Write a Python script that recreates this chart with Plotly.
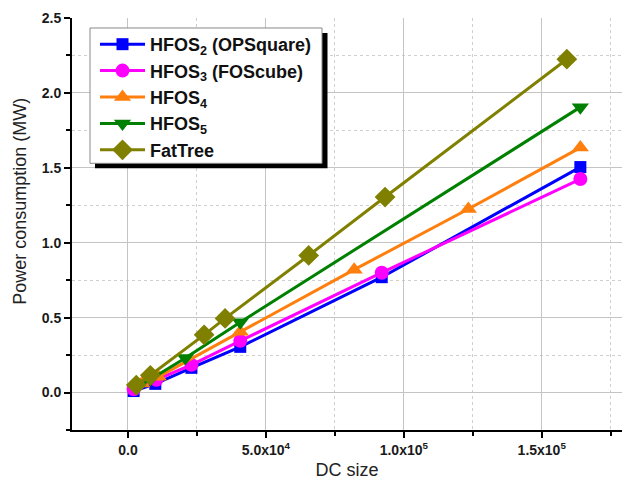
import plotly.graph_objects as go

# ---- data ----
hfos2_x = [2048, 9900, 23000, 40700, 92000, 164000]
hfos2_y = [0.01, 0.058, 0.165, 0.305, 0.77, 1.505]

hfos3_x = [2048, 10300, 23000, 40700, 92000, 164000]
hfos3_y = [0.022, 0.085, 0.185, 0.345, 0.80, 1.425]

hfos4_x = [5000, 11000, 40700, 82000, 123400, 164000]
hfos4_y = [0.06, 0.105, 0.405, 0.82, 1.225, 1.635]

hfos5_x = [3000, 8200, 20800, 40700, 164000]
hfos5_y = [0.03, 0.09, 0.23, 0.47, 1.905]

fat_x = [3000, 8100, 27600, 35200, 65500, 93200, 159100]
fat_y = [0.05, 0.115, 0.385, 0.495, 0.915, 1.305, 2.225]

names = ["HFOS<sub>2</sub> (OPSquare)", "HFOS<sub>3</sub> (FOScube)",
         "HFOS<sub>4</sub>", "HFOS<sub>5</sub>", "FatTree"]
colors = ["#0000FF", "#FF00FF", "#FF7F0E", "#008000", "#808000"]
symbols = ["square", "circle", "triangle-up", "triangle-down", "diamond"]
sizes = [12, 14, 15, 15, 16]

x_tickvals = [0, 50000, 100000, 150000]
x_ticktext = ["0.0", "5.0x10<sup>4</sup>", "1.0x10<sup>5</sup>", "1.5x10<sup>5</sup>"]
y_tickvals = [0.0, 0.5, 1.0, 1.5, 2.0, 2.5]
y_ticktext = ["0.0", "0.5", "1.0", "1.5", "2.0", "2.5"]

series = [(hfos2_x, hfos2_y), (hfos3_x, hfos3_y), (hfos4_x, hfos4_y),
          (hfos5_x, hfos5_y), (fat_x, fat_y)]

fig = go.Figure()
for (xs, ys), n, c, s, sz in zip(series, names, colors, symbols, sizes):
    fig.add_trace(go.Scatter(
        x=xs, y=ys, name=n, mode="lines+markers",
        line=dict(color=c, width=3),
        marker=dict(color=c, symbol=s, size=sz, line=dict(width=0)),
    ))

font = "Arial, Liberation Sans, sans-serif"
axis_common = dict(
    showline=True, linecolor="black", linewidth=2,
    ticks="outside", ticklen=6, tickwidth=2, tickcolor="black",
    showgrid=True, gridcolor="#c4c4c4", gridwidth=1.2,
    zeroline=False, mirror=False,
    tickfont=dict(family=font, size=14, color="#1a1a1a", weight="bold"),
)

fig.update_xaxes(
    range=[-20300, 179100], tickvals=x_tickvals, ticktext=x_ticktext,
    minor=dict(dtick=25000, tick0=0, ticks="outside", ticklen=4, tickwidth=1.5,
               tickcolor="black", showgrid=True, gridcolor="#cfcfcf",
               griddash="dot", gridwidth=1),
    title=dict(text="DC size", font=dict(family=font, size=18, color="#222222"),
               standoff=8),
    **axis_common,
)
fig.update_yaxes(
    range=[-0.25, 2.5], tickvals=y_tickvals, ticktext=y_ticktext,
    minor=dict(dtick=0.25, tick0=0, ticks="outside", ticklen=4, tickwidth=1.5,
               tickcolor="black", showgrid=True, gridcolor="#cfcfcf",
               griddash="dot", gridwidth=1),
    **axis_common,
)

# y-axis title placed like the reference (slightly above plot centre)
fig.add_annotation(text="Power consumption (MW)", xref="paper", yref="paper",
                   x=(20 - 72) / 550, y=(430.5 - 202) / 412.5,
                   xanchor="center", yanchor="middle", textangle=-90,
                   showarrow=False,
                   font=dict(family=font, size=18, color="#222222"))

def px_x(p):
    return (p - 72) / 550

def px_y(p):
    return (430.5 - p) / 412.5

# legend shadow and box
fig.add_shape(type="rect", xref="paper", yref="paper",
              x0=px_x(95), x1=px_x(327.5), y0=px_y(168.5), y1=px_y(33),
              fillcolor="black", line=dict(width=0), layer="above")
fig.add_shape(type="rect", xref="paper", yref="paper",
              x0=px_x(90), x1=px_x(322), y0=px_y(163.5), y1=px_y(28),
              fillcolor="white", line=dict(width=1, color="#888888"), layer="above")

fig.update_layout(
    width=622, height=480,
    margin=dict(l=72, r=0, t=18, b=50),
    paper_bgcolor="white", plot_bgcolor="white",
    showlegend=True,
    legend=dict(
        x=px_x(95), y=px_y(26), xanchor="left", yanchor="top",
        bgcolor="rgba(0,0,0,0)", borderwidth=0,
        font=dict(family=font, size=18, color="#111111", weight="bold"),
        itemwidth=45, tracegroupgap=0,
    ),
)

fig.write_html("out.html")
